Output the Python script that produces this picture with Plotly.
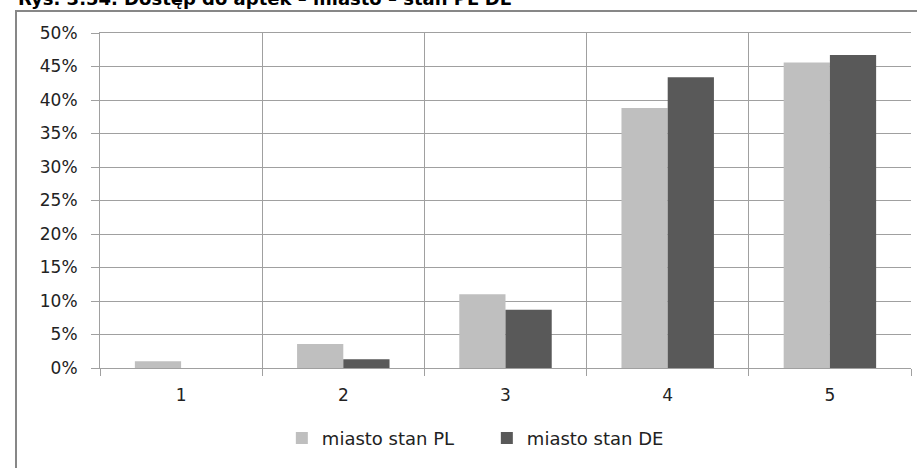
import plotly.graph_objects as go

categories = ["1", "2", "3", "4", "5"]
pl_values = [0.010, 0.036, 0.110, 0.388, 0.456]
de_values = [0.000, 0.013, 0.087, 0.434, 0.467]
series_names = ["miasto stan PL", "miasto stan DE"]
title_text = "Rys. 3.54. Dostęp do aptek – miasto – stan PL DE"

FONT = "DejaVu Sans"
GRID = "#A0A0A0"

fig = go.Figure()
fig.add_trace(go.Bar(x=categories, y=pl_values, name=series_names[0],
                     marker=dict(color="#BFBFBF", line=dict(width=0))))
fig.add_trace(go.Bar(x=categories, y=de_values, name=series_names[1],
                     marker=dict(color="#595959", line=dict(width=0))))

fig.update_layout(
    width=917, height=468,
    margin=dict(l=100, r=6, t=33, b=100, autoexpand=False),
    paper_bgcolor="white", plot_bgcolor="white",
    barmode="group", bargap=0.43, bargroupgap=0,
    font=dict(family=FONT, size=17, color="#222222"),
    showlegend=True,
    legend=dict(orientation="h", x=0.477, xanchor="center", y=-0.21, yanchor="middle",
                font=dict(size=18), traceorder="normal", entrywidth=160,
                entrywidthmode="pixels"),
)
fig.update_xaxes(
    type="category", tickson="boundaries", showgrid=True, gridcolor=GRID, gridwidth=1,
    ticks="outside", ticklen=7, tickcolor=GRID, showline=True, linecolor=GRID,
    mirror=True, tickfont=dict(size=17), automargin=False, ticklabelstandoff=12,
)
fig.update_yaxes(
    range=[0, 0.5], dtick=0.05, tickformat=".0%", showgrid=True, gridcolor=GRID,
    ticks="outside", ticklen=8, tickcolor=GRID, showline=True, linecolor=GRID,
    zeroline=False, tickfont=dict(size=17), automargin=False, ticklabelstandoff=10,
)

# outer chart frame
fig.add_shape(type="rect", xref="paper", yref="paper",
              x0=(16 - 100) / 811, x1=1.2, y0=-0.6, y1=1 + (33 - 11) / 335,
              line=dict(color="#878787", width=2), layer="below")

fig.add_annotation(text="<b>" + title_text + "</b>", xref="paper", yref="paper",
                   x=(16 - 100) / 811, xanchor="left", y=1 + (33 - 11) / 335, yanchor="bottom",
                   showarrow=False, font=dict(size=18, color="#000000"))

fig.write_html("out.html", config={"responsive": False, "displayModeBar": False},
               post_script="document.body.style.margin='0';document.body.style.overflow='hidden';")
